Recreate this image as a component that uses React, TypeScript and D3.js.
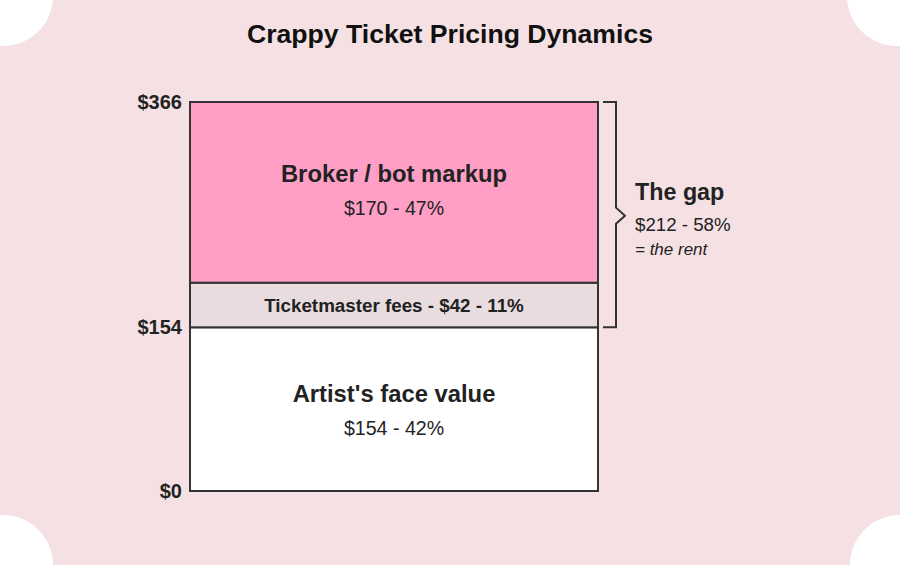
import React from "react";
import * as d3 from "d3";

const segments = ["Artist's face value", "Ticketmaster fees", "Broker / bot markup"];
const values = [154, 42, 170];
const percents = [42, 11, 47];
const tickValues = [0, 154, 366];
const gapValue = 212;
const gapPercent = 58;

const W = 900, H = 565;
const FONT = "'Liberation Sans', Arial, sans-serif";

export default function App() {
  const total = d3.sum(values);
  const y = d3.scaleLinear().domain([0, total]).range([491, 102]);
  const x0 = 190, x1 = 598;
  const cx = (x0 + x1) / 2;
  let acc = 0;
  const stacks = values.map((v, i) => {
    const s = { start: acc, end: acc + v, i };
    acc += v;
    return s;
  });
  const fills = ["#ffffff", "#e8dcdf", "#ff9fc5"];
  const gapTop = y(total), gapBot = y(values[0]);
  const gapMid = (gapTop + gapBot) / 2 + 1;
  const bx = 616;
  const bracket = `M603,${gapTop} H${bx} V${gapMid - 8} L${bx + 9},${gapMid} L${bx},${gapMid + 8} V${gapBot} H603`;
  const r = 50;
  const mid = (s: { start: number; end: number }) => (y(s.start) + y(s.end)) / 2;
  return (
    <svg width={W} height={H} style={{ position: "absolute", left: 0, top: 0 }}>
      <rect x={0} y={0} width={W} height={H} fill="#f5e1e4" />
      <circle cx={3} cy={-4} r={r} fill="#fff" />
      <circle cx={W - 3} cy={-4} r={r} fill="#fff" />
      <circle cx={3} cy={H} r={r} fill="#fff" />
      <circle cx={W} cy={H} r={r} fill="#fff" />
      <text x={450} y={43} textAnchor="middle" fontFamily={FONT} fontWeight="bold" fontSize={26.6} fill="#111">
        Crappy Ticket Pricing Dynamics
      </text>
      {stacks.map((s) => (
        <rect key={s.i} x={x0} y={y(s.end)} width={x1 - x0} height={y(s.start) - y(s.end)}
          fill={fills[s.i]} stroke="#333" strokeWidth={2} />
      ))}
      <text x={cx} y={mid(stacks[2]) - 10} textAnchor="middle" fontFamily={FONT} fontWeight="bold" fontSize={23.8} fill="#222">
        {segments[2]}
      </text>
      <text x={cx} y={mid(stacks[2]) + 23} textAnchor="middle" fontFamily={FONT} fontSize={19.6} fill="#222">
        {`$${values[2]} - ${percents[2]}%`}
      </text>
      <text x={cx} y={mid(stacks[1]) + 7} textAnchor="middle" fontFamily={FONT} fontWeight="bold" fontSize={18.8} fill="#222">
        {`${segments[1]} - $${values[1]} - ${percents[1]}%`}
      </text>
      <text x={cx} y={mid(stacks[0]) - 7} textAnchor="middle" fontFamily={FONT} fontWeight="bold" fontSize={23.8} fill="#222">
        {segments[0]}
      </text>
      <text x={cx} y={mid(stacks[0]) + 26} textAnchor="middle" fontFamily={FONT} fontSize={19.6} fill="#222">
        {`$${values[0]} - ${percents[0]}%`}
      </text>
      {tickValues.map((t) => (
        <text key={t} x={182} y={y(t) + 7} textAnchor="end" fontFamily={FONT} fontWeight="bold" fontSize={20} fill="#222">
          {`$${t}`}
        </text>
      ))}
      <path d={bracket} fill="none" stroke="#333" strokeWidth={2} />
      <text x={635} y={200} fontFamily={FONT} fontWeight="bold" fontSize={23.3} fill="#222">The gap</text>
      <text x={635} y={231} fontFamily={FONT} fontSize={18.7} fill="#222">{`$${gapValue} - ${gapPercent}%`}</text>
      <text x={635} y={255} fontFamily={FONT} fontStyle="italic" fontSize={17} fill="#222">= the rent</text>
    </svg>
  );
}
